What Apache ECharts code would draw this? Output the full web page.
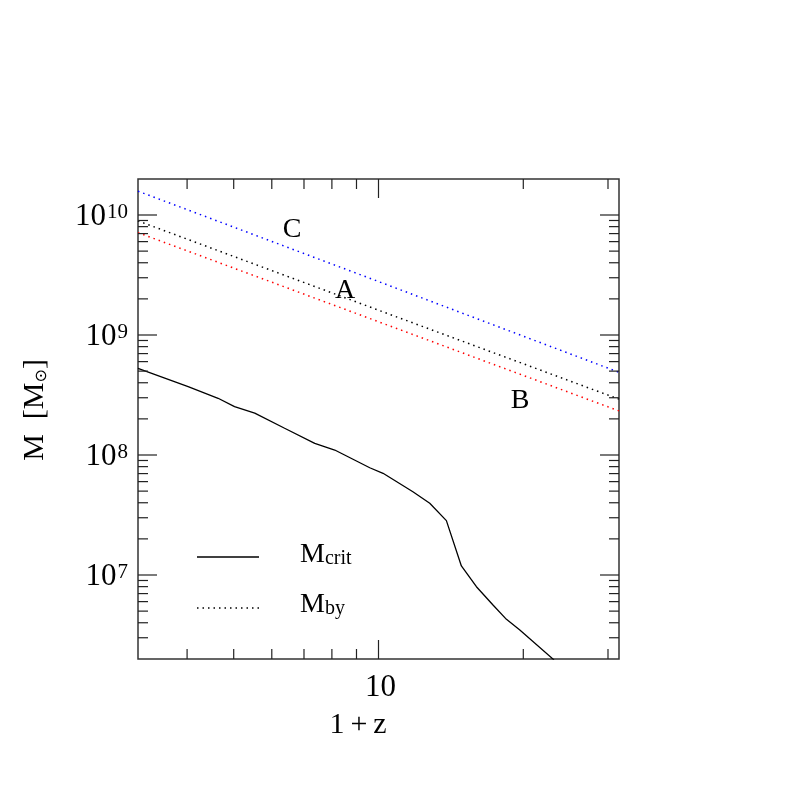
<!DOCTYPE html>
<html>
<head>
<meta charset="utf-8">
<script src="https://cdn.jsdelivr.net/npm/echarts@6/dist/echarts.min.js"></script>
<style>html,body{margin:0;padding:0;background:#fff;}#c{width:797px;height:797px;}</style>
</head>
<body>
<div id="c"></div>
<script>
// ---- data ----
var critX = [3.162, 4.02, 4.64, 5.02, 5.53, 6.38, 7.37, 8.11, 9.59, 10.22, 11.79, 12.78, 13.84, 14.87, 15.98, 17.30, 18.45, 19.67, 23.17];
var critY = [5.28e8, 3.71e8, 2.97e8, 2.53e8, 2.23e8, 1.67e8, 1.25e8, 1.10e8, 7.83e7, 7.04e7, 4.94e7, 3.96e7, 2.84e7, 1.19e7, 7.99e6, 5.62e6, 4.27e6, 3.48e6, 1.96e6];
var byX = [3.162, 10, 31.62];
var byA = [8.93e9, 1.61e9, 2.92e8];   // black
var byB = [7.13e9, 1.29e9, 2.33e8];   // red
var byC = [1.58e10, 2.79e9, 4.89e8];  // blue
var xMajorTicks = [10];
var xMinorTicks = [4, 5, 6, 7, 8, 9, 20, 30];
var yMajorTicks = [1e7, 1e8, 1e9, 1e10];
var yMinorTicks = [3e6, 4e6, 5e6, 6e6, 7e6, 8e6, 9e6,
  2e7, 3e7, 4e7, 5e7, 6e7, 7e7, 8e7, 9e7,
  2e8, 3e8, 4e8, 5e8, 6e8, 7e8, 8e8, 9e8,
  2e9, 3e9, 4e9, 5e9, 6e9, 7e9, 8e9, 9e9];
var xTickLabels = [[10, '10']];
var yTickLabels = [[1e7, '7'], [1e8, '8'], [1e9, '9'], [1e10, '10']];
var xMin = Math.pow(10, 0.5), xMax = Math.pow(10, 1.5);
var yMin = Math.pow(10, 6.3), yMax = Math.pow(10, 10.3);

function zip(a, b) { return a.map(function (v, i) { return [v, b[i]]; }); }

var SERIF = '"Liberation Serif", "DejaVu Serif", serif';
var tickColor = '#222';

function xTickData() {
  return xMajorTicks.map(function (v) { return [v, 1e8, 1]; })
    .concat(xMinorTicks.map(function (v) { return [v, 1e8, 0]; }));
}
function yTickData() {
  return yMajorTicks.map(function (v) { return [5, v, 1]; })
    .concat(yMinorTicks.map(function (v) { return [5, v, 0]; }));
}

var chart = echarts.init(document.getElementById('c'), null, { renderer: 'canvas' });
var option = {
  animation: false,
  backgroundColor: '#fff',
  grid: { left: 138, top: 179, width: 481, height: 480, show: true, borderColor: '#333', borderWidth: 1.5, backgroundColor: 'transparent' },
  xAxis: { type: 'log', logBase: 10, min: xMin, max: xMax,
    axisLine: { show: false }, axisTick: { show: false }, axisLabel: { show: false }, splitLine: { show: false } },
  yAxis: { type: 'log', logBase: 10, min: yMin, max: yMax,
    axisLine: { show: false }, axisTick: { show: false }, axisLabel: { show: false }, splitLine: { show: false } },
  series: [
    { type: 'line', data: zip(critX, critY), showSymbol: false, lineStyle: { color: '#000', width: 1.3 }, clip: true, z: 3 },
    { type: 'line', data: zip(byX, byC), showSymbol: false, lineStyle: { color: '#0000ff', width: 1.5, type: [1.5, 4] }, clip: true },
    { type: 'line', data: zip(byX, byA), showSymbol: false, lineStyle: { color: '#000', width: 1.5, type: [1.5, 4] }, clip: true },
    { type: 'line', data: zip(byX, byB), showSymbol: false, lineStyle: { color: '#ff0000', width: 1.5, type: [1.5, 4] }, clip: true },
    { // x ticks (bottom & top)
      type: 'custom', data: xTickData(), clip: false, z: 5,
      renderItem: function (params, api) {
        var cs = params.coordSys;
        var px = api.coord([api.value(0), api.value(1)])[0];
        var len = api.value(2) ? 19 : 10;
        var b = cs.y + cs.height, t = cs.y;
        return { type: 'group', children: [
          { type: 'line', shape: { x1: px, y1: b, x2: px, y2: b - len }, style: { stroke: tickColor, lineWidth: 1.2 } },
          { type: 'line', shape: { x1: px, y1: t, x2: px, y2: t + len }, style: { stroke: tickColor, lineWidth: 1.2 } }
        ] };
      }
    },
    { // y ticks (left & right)
      type: 'custom', data: yTickData(), clip: false, z: 5,
      renderItem: function (params, api) {
        var cs = params.coordSys;
        var py = api.coord([api.value(0), api.value(1)])[1];
        var len = api.value(2) ? 19 : 10;
        var l = cs.x, r = cs.x + cs.width;
        return { type: 'group', children: [
          { type: 'line', shape: { x1: l, y1: py, x2: l + len, y2: py }, style: { stroke: tickColor, lineWidth: 1.2 } },
          { type: 'line', shape: { x1: r, y1: py, x2: r - len, y2: py }, style: { stroke: tickColor, lineWidth: 1.2 } }
        ] };
      }
    },
    { // x tick labels
      type: 'custom', data: xTickLabels.map(function (d) { return [d[0], 1e8]; }), clip: false,
      renderItem: function (params, api) {
        var cs = params.coordSys;
        var px = api.coord([api.value(0), api.value(1)])[0];
        var txt = xTickLabels[params.dataIndex][1];
        return { type: 'text', x: px + 2, y: cs.y + cs.height + 29,
          style: { text: txt, font: '31px ' + SERIF, fill: '#000', align: 'center', verticalAlign: 'middle' } };
      }
    },
    { // y tick labels
      type: 'custom', data: yTickLabels.map(function (d) { return [5, d[0]]; }), clip: false,
      renderItem: function (params, api) {
        var cs = params.coordSys;
        var py = api.coord([api.value(0), api.value(1)])[1];
        var ex = yTickLabels[params.dataIndex][1];
        return { type: 'text', x: cs.x - 10, y: py + 2,
          style: { text: '{b|10}{s|' + ex + '}', align: 'right', verticalAlign: 'middle', fill: '#000',
            rich: {
              b: { fontFamily: SERIF, fontSize: 31, lineHeight: 31, verticalAlign: 'bottom', fill: '#000' },
              s: { fontFamily: SERIF, fontSize: 21, lineHeight: 31, verticalAlign: 'top', fill: '#000', padding: [0, 0, 0, 1] }
            } } };
      }
    }
  ],
  graphic: [
    { type: 'text', x: 358, y: 725, style: { text: '1\u2009+\u2009z', font: '30px ' + SERIF, fill: '#000', align: 'center', verticalAlign: 'middle' } },
    { type: 'text', x: 33, y: 410, rotation: Math.PI / 2,
      style: { text: '{a|M\u2002[M}{s|\u2299}{a|]}', align: 'center', verticalAlign: 'middle', fill: '#000',
        rich: { a: { fontFamily: SERIF, fontSize: 30, lineHeight: 34, verticalAlign: 'bottom' },
                s: { fontFamily: '"DejaVu Sans", sans-serif', fontSize: 16, lineHeight: 28, verticalAlign: 'bottom' } } } },
    // legend
    { type: 'line', shape: { x1: 197, y1: 557, x2: 259, y2: 557 }, style: { stroke: '#000', lineWidth: 1.3 } },
    { type: 'line', shape: { x1: 197, y1: 608, x2: 259, y2: 608 }, style: { stroke: '#000', lineWidth: 1.5, lineDash: [1.5, 4] } },
    { type: 'text', x: 300, y: 569, style: { text: '{a|M}{s|crit}', align: 'left', verticalAlign: 'bottom', fill: '#000',
        rich: { a: { fontFamily: SERIF, fontSize: 28, lineHeight: 30, verticalAlign: 'bottom' },
                s: { fontFamily: SERIF, fontSize: 20, lineHeight: 26, verticalAlign: 'bottom' } } } },
    { type: 'text', x: 300, y: 619, style: { text: '{a|M}{s|by}', align: 'left', verticalAlign: 'bottom', fill: '#000',
        rich: { a: { fontFamily: SERIF, fontSize: 28, lineHeight: 30, verticalAlign: 'bottom' },
                s: { fontFamily: SERIF, fontSize: 20, lineHeight: 26, verticalAlign: 'bottom' } } } },
    // annotations
    { type: 'text', x: 292, y: 230, style: { text: 'C', font: '28px ' + SERIF, fill: '#000', align: 'center', verticalAlign: 'middle' } },
    { type: 'text', x: 345, y: 291, style: { text: 'A', font: '28px ' + SERIF, fill: '#000', align: 'center', verticalAlign: 'middle' } },
    { type: 'text', x: 520, y: 401, style: { text: 'B', font: '28px ' + SERIF, fill: '#000', align: 'center', verticalAlign: 'middle' } }
  ]
};
chart.setOption(option);
</script>
</body>
</html>
